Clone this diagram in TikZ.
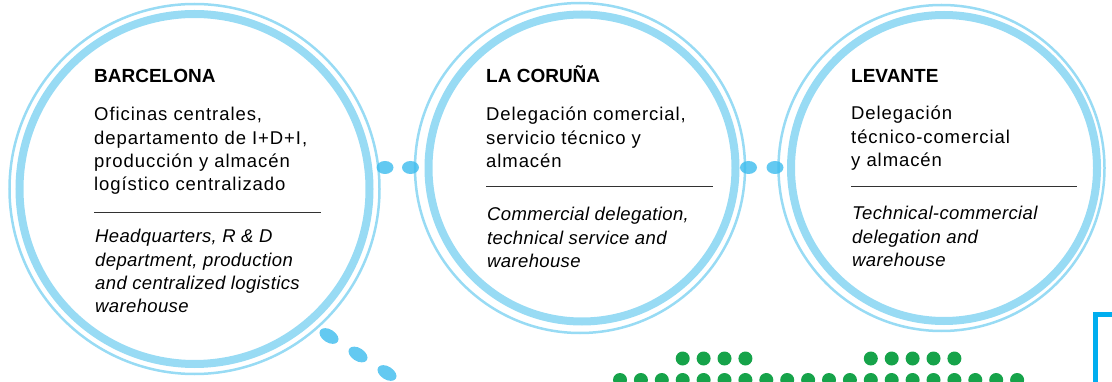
\documentclass[tikz,border=0pt]{standalone}
\usepackage{fontspec}
\setmainfont{Liberation Sans}
\usetikzlibrary{shapes.geometric}
\definecolor{ring}{RGB}{152,219,244}
\definecolor{linkblue}{RGB}{60,188,238}
\definecolor{dotgreen}{RGB}{22,163,74}
\definecolor{cornerblue}{RGB}{0,174,239}
\definecolor{rulegray}{RGB}{50,50,50}

\tikzset{
  site/.style={circle, draw=ring, line width=8pt, inner sep=0pt},
  halo/.style={draw=ring, line width=2.5pt},
  linkdot/.style={ellipse, fill=linkblue, fill opacity=0.8, inner sep=0pt,
    minimum width=17pt, minimum height=13pt},
  tailblob/.style={linkdot, minimum width=21pt, rotate=-32.5},
  head/.style={anchor=base west, inner sep=0pt,
    font=\fontsize{19}{23}\selectfont\bfseries},
  spanish/.style={anchor=base west, inner sep=0pt,
    font=\fontsize{18.5}{23.3}\selectfont\addfontfeature{LetterSpace=5}},
  english/.style={anchor=base west, inner sep=0pt,
    font=\fontsize{18.5}{23.3}\selectfont\itshape\addfontfeature{LetterSpace=2}},
  rule/.style={draw=rulegray, line width=1pt}
}
\newcommand{\lines}[1]{\parbox[t]{260pt}{\raggedright #1}}

\begin{document}
\begin{tikzpicture}[x=1pt, y=-1pt]
      \useasboundingbox (0,0) rectangle (1112,382);
      % Define nodes
      \node[site, minimum size=350pt] (barcelona) at (194.5,189) {};
      \node[site, minimum size=307pt] (coruna)    at (582,168)   {};
      \node[site, minimum size=306pt] (levante)   at (944,168)   {};
      \draw[halo] (barcelona.center) circle (185pt);
      \draw[halo] (580,168) circle (165pt);
      \draw[halo] (941.5,168) circle (163pt);

      % Barcelona
      \node[head] (bcnhead) at (94,83) {BARCELONA};
      \node[spanish] (bcnes) at (94,121) {\lines{Oficinas centrales,\\
        departamento de I+D+I,\\ producción y almacén\\ logístico centralizado}};
      \draw[rule] (94,213) -- (321,213);
      \node[english] (bcnen) at (95,243) {\lines{Headquarters, R \& D\\
        department, production\\ and centralized logistics\\ warehouse}};

      % La Coruna
      \node[head] (corhead) at (486,83) {LA CORUÑA};
      \node[spanish] (cores) at (486,121) {\lines{Delegación comercial,\\
        servicio técnico y\\ almacén}};
      \draw[rule] (486,187) -- (713,187);
      \node[english] (coren) at (487,221) {\lines{Commercial delegation,\\
        technical service and\\ warehouse}};

      % Levante
      \node[head] (levhead) at (851,83) {LEVANTE};
      \node[spanish] (leves) at (851,120) {\lines{Delegación\\
        técnico-comercial\\ y almacén}};
      \draw[rule] (851,187) -- (1077,187);
      \node[english] (leven) at (852,220) {\lines{Technical-commercial\\
        delegation and\\ warehouse}};

      % links between the sites
      \node[linkdot] (bc1) at (385,167.5) {};
      \node[linkdot] (bc2) at (410.5,167.5) {};
      \node[linkdot] (cl1) at (748.5,167.5) {};
      \node[linkdot] (cl2) at (775,167.5) {};
      \node[tailblob] (t1) at (329,336) {};
      \node[tailblob] (t2) at (358,354.5) {};
      \node[tailblob] (t3) at (387,373) {};

      % green dots
      \foreach \i in {0,...,19}
        \fill[dotgreen] (620+20.9*\i,380) circle (7pt);
      \foreach \i in {3,4,5,6,12,13,14,15,16}
        \fill[dotgreen] (620+20.9*\i,358.5) circle (7pt);

      % corner mark
      \draw[cornerblue, line width=5pt] (1112,314.5) -- (1095.5,314.5) -- (1095.5,382);
    \end{tikzpicture}
\end{document}
